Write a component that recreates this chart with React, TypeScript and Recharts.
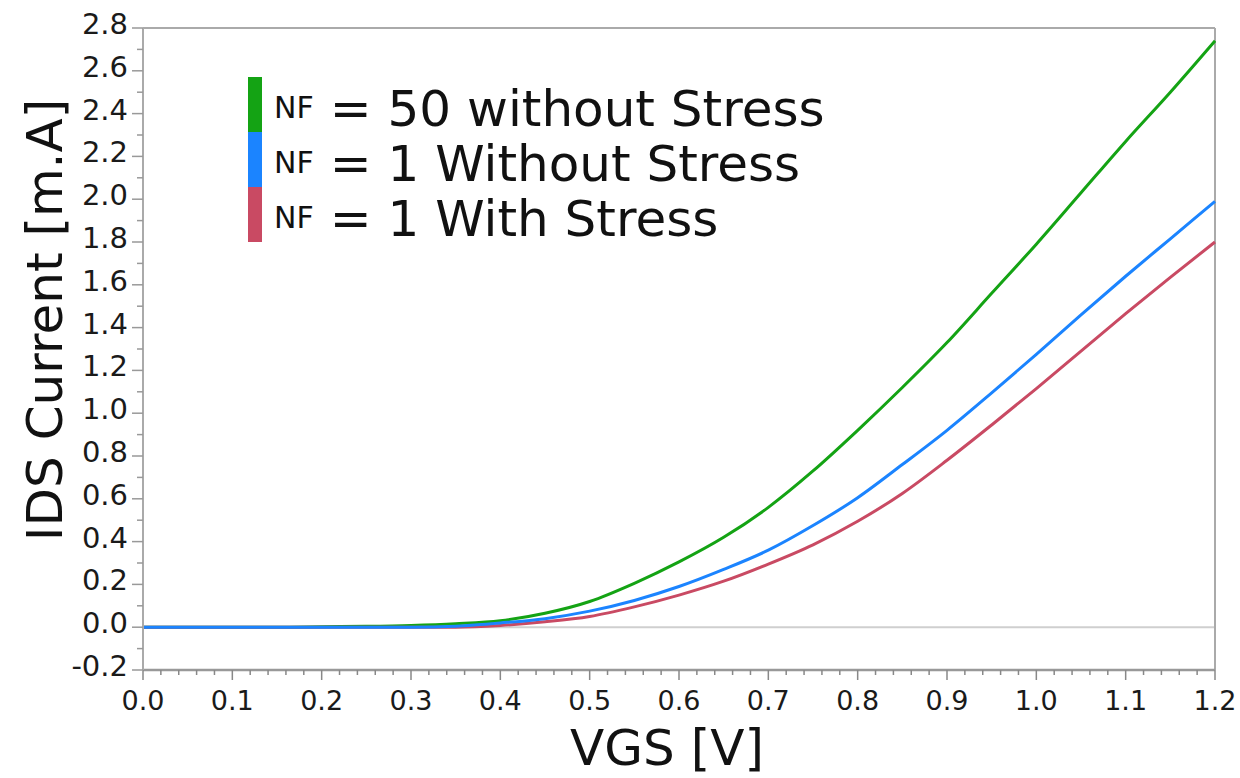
import React from 'react';
import { LineChart, Line, XAxis, YAxis, ReferenceLine, Legend } from 'recharts';

const FONT = "'DejaVu Sans', Verdana, sans-serif";

// VGS sweep [V]
const vgs = [0, 0.05, 0.1, 0.15, 0.2, 0.25, 0.3, 0.35, 0.4, 0.45, 0.5, 0.55, 0.6, 0.65, 0.7, 0.75, 0.8, 0.85, 0.9, 0.95, 1.0, 1.05, 1.1, 1.15, 1.2];

// IDS [mA]
const nf50NoStress = [0, 0, 0, 0, 0.002, 0.004, 0.008, 0.016, 0.03, 0.065, 0.12, 0.205, 0.305, 0.42, 0.56, 0.73, 0.92, 1.12, 1.33, 1.56, 1.79, 2.03, 2.27, 2.5, 2.74];
const nf1NoStress = [0, 0, 0, 0, 0, 0, 0, 0.005, 0.02, 0.04, 0.075, 0.125, 0.19, 0.27, 0.36, 0.475, 0.605, 0.76, 0.92, 1.095, 1.275, 1.46, 1.64, 1.815, 1.99];
const nf1Stress = [0, 0, 0, 0, 0, 0, 0, 0, 0.008, 0.025, 0.05, 0.095, 0.15, 0.215, 0.295, 0.385, 0.495, 0.625, 0.78, 0.945, 1.115, 1.29, 1.465, 1.635, 1.8];

const seriesNames = ['NF = 50 without Stress', 'NF = 1 Without Stress', 'NF = 1 With Stress'];
const colors = ['#14a314', '#1b84ff', '#c94a63'];

const xDomain = [0, 1.2];
const yDomain = [-0.2, 2.8];

// minor ticks every 0.02 on x, every 0.1 on y (labels on 0.1 / 0.2)
const xTicks: number[] = [];
for (let i = 0; i <= 60; i++) xTicks.push(Math.round(i * 2) / 100);
const yTicks: number[] = [];
for (let i = -2; i <= 28; i++) yTicks.push(i / 10);

const data = vgs.map((v, i) => ({
  vgs: v,
  a: nf50NoStress[i],
  b: nf1NoStress[i],
  c: nf1Stress[i],
}));

const XTick = (props: any) => {
  const { x, y, payload } = props;
  const v = payload.value;
  const major = Math.abs(v * 10 - Math.round(v * 10)) < 1e-6;
  return (
    <g>
      <line x1={x} x2={x} y1={y} y2={y + (major ? 10 : 5)} stroke="#888" strokeWidth={1.5} />
      {major && (
        <text x={x} y={y + 40} textAnchor="middle" fontSize={27} fill="#1a1a1a" fontFamily={FONT}>
          {v.toFixed(1)}
        </text>
      )}
    </g>
  );
};

const YTick = (props: any) => {
  const { x, y, payload } = props;
  const v = payload.value;
  const major = Math.round(v * 10) % 2 === 0;
  return (
    <g>
      <line x1={x - (major ? 11 : 6)} x2={x} y1={y} y2={y} stroke="#999" strokeWidth={1.5} />
      {major && (
        <text x={x - 15} y={y + 6} textAnchor="end" fontSize={29} fill="#1a1a1a" fontFamily={FONT}>
          {v.toFixed(1)}
        </text>
      )}
    </g>
  );
};

const renderLegend = (props: any) => {
  const payload = [...(props.payload || [])].sort(
    (p: any, q: any) => seriesNames.indexOf(p.value) - seriesNames.indexOf(q.value)
  );
  return (
    <div style={{ fontFamily: FONT, color: '#111', whiteSpace: 'nowrap' }}>
      {payload.map((entry: any, i: number) => {
        const [prefix, ...rest] = String(entry.value).split(' ');
        return (
          <div key={i} style={{ display: 'flex', alignItems: 'center', height: 55 }}>
            <div style={{ width: 14, height: 55, background: entry.color }} />
            <span style={{ fontSize: 30, lineHeight: 1, marginLeft: 12, position: 'relative', top: 3 }}>{prefix}</span>
            <span style={{ fontSize: 50, lineHeight: 1, marginLeft: 16, position: 'relative', top: 4 }}>{rest.join(' ')}</span>
          </div>
        );
      })}
    </div>
  );
};

export default function App() {
  return (
    <div style={{ position: 'absolute', left: 0, top: 0, background: '#fff' }}>
      <LineChart width={1240} height={778} data={data} margin={{ top: 28, right: 25, left: 0, bottom: 0 }}>
        <XAxis
          dataKey="vgs"
          type="number"
          domain={xDomain}
          ticks={xTicks}
          interval={0}
          tickSize={0}
          tickMargin={0}
          tickLine={false}
          tick={XTick}
          height={108}
          axisLine={{ stroke: '#999', strokeWidth: 2.5 }}
          label={{
            content: () => (
              <text x={667} y={765} textAnchor="middle" fontSize={50} fill="#111" fontFamily={FONT}>
                VGS [V]
              </text>
            ),
          }}
        />
        <YAxis
          type="number"
          domain={yDomain}
          ticks={yTicks}
          interval={0}
          tickSize={0}
          tickMargin={0}
          tickLine={false}
          tick={YTick}
          width={143}
          axisLine={{ stroke: '#aaa', strokeWidth: 2 }}
          label={{
            content: () => (
              <text
                x={62}
                y={320}
                transform="rotate(-90 62 320)"
                textAnchor="middle"
                fontSize={50}
                fill="#111"
                fontFamily={FONT}
              >
                IDS Current [m.A]
              </text>
            ),
          }}
        />
        <ReferenceLine y={0} stroke="#cfcfcf" strokeWidth={2} />
        <ReferenceLine y={2.8} stroke="#aaa" strokeWidth={2} />
        <ReferenceLine x={1.2} stroke="#aaa" strokeWidth={2} />
        <Legend
          layout="vertical"
          align="center"
          verticalAlign="middle"
          content={renderLegend}
          wrapperStyle={{ position: 'absolute', left: 248, top: 77, width: 'auto', height: 'auto' }}
        />
        <Line type="monotone" dataKey="a" name={seriesNames[0]} stroke={colors[0]} strokeWidth={3} dot={false} isAnimationActive={false} />
        <Line type="monotone" dataKey="c" name={seriesNames[2]} stroke={colors[2]} strokeWidth={3} dot={false} isAnimationActive={false} />
        <Line type="monotone" dataKey="b" name={seriesNames[1]} stroke={colors[1]} strokeWidth={3} dot={false} isAnimationActive={false} />
      </LineChart>
    </div>
  );
}
